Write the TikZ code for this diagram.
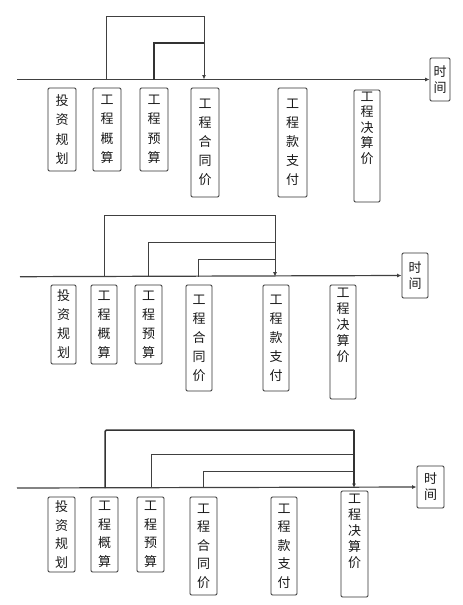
\documentclass[tikz,border=0pt]{standalone}
\usepackage{fontspec}
\newfontfamily\cjk{Noto Sans CJK SC}
\usetikzlibrary{arrows.meta}
\definecolor{ln}{HTML}{404040}
\definecolor{bx}{HTML}{303030}
\newcommand{\vtxt}[5]{\parbox[c][#1pt][#2]{#3pt}{\centering\fontsize{13}{#4}\selectfont\cjk #5}}
\begin{document}
\begin{tikzpicture}[x=1pt,y=-1pt,
  box/.style={draw=bx,line width=0.9pt,rounded corners=1.2pt,inner sep=0pt,text=black!90},
  tl/.style={draw=ln,line width=1.2pt},
  link/.style={draw=ln,line width=0.9pt},
  thick link/.style={draw=ln!80!black,line width=1.5pt},
  arr/.style={-{Latex[length=4.5pt,width=4pt]}}]
\useasboundingbox (0,0) rectangle (463,605);

% ---------------- panel 1 ----------------
\node[box] (T1) at (440,79.5) {\vtxt{43}{c}{20}{16}{时\\间}};
\node[box] (a1) at (62,129.5) {\vtxt{83}{c}{28}{19.5}{投\\资\\规\\划}};
\node[box] (b1) at (107,129.5) {\vtxt{83}{c}{28}{19.5}{工\\程\\概\\算}};
\node[box] (c1) at (154,129.5) {\vtxt{83}{c}{28}{19.5}{工\\程\\预\\算}};
\node[box] (d1) at (205,142.5) {\vtxt{109}{c}{28}{19}{工\\程\\合\\同\\价}};
\node[box] (e1) at (292.5,142.5) {\vtxt{109}{c}{29}{19}{工\\程\\款\\支\\付}};
\node[box] (f1) at (367,146) {\vtxt{112}{t}{26}{15.5}{\vspace{2pt}工\\程\\决\\算\\价}};
\coordinate (s1) at (17,79.5);
\coordinate (p1b) at (106,79.5);
\coordinate (p1c) at (154,79.5);
\coordinate (p1d) at (204,79.5);
\coordinate (h1a) at (204,16);
\coordinate (h1b) at (204,43);
\draw[tl,arr] (s1) -- (T1.west);
\draw[link] (p1b) |- (h1a);
\draw[thick link] (p1c) |- (h1b);
\draw[link,arr] (h1a) -- (p1d);

% ---------------- panel 2 ----------------
\node[box] (T2) at (415,275.5) {\vtxt{45}{c}{26}{16}{时\\间}};
\node[box] (a2) at (63.5,324.5) {\vtxt{79}{c}{25}{19}{投\\资\\规\\划}};
\node[box] (b2) at (104,324.5) {\vtxt{79}{c}{26}{19}{工\\程\\概\\算}};
\node[box] (c2) at (148.5,324.5) {\vtxt{79}{c}{27}{19}{工\\程\\预\\算}};
\node[box] (d2) at (199,338) {\vtxt{106}{c}{26}{19}{工\\程\\合\\同\\价}};
\node[box] (e2) at (276,338) {\vtxt{106}{c}{26}{19}{工\\程\\款\\支\\付}};
\node[box] (f2) at (343,342) {\vtxt{114}{t}{26}{16}{\vspace{3pt}工\\程\\决\\算\\价}};
\coordinate (s2) at (20,276.7);
\coordinate (p2b) at (104,276.7);
\coordinate (p2c) at (148,276.7);
\coordinate (p2d) at (198,276.7);
\coordinate (p2e) at (275,276.7);
\coordinate (h2a) at (275,215);
\coordinate (h2b) at (275,242);
\coordinate (h2c) at (275,259);
\draw[tl,arr] (s2) -- (T2.west);
\draw[link] (p2b) |- (h2a);
\draw[link] (p2c) |- (h2b);
\draw[link] (p2d) |- (h2c);
\draw[link,arr] (h2a) -- (p2e);

% ---------------- panel 3 ----------------
\node[box] (T3) at (430.5,487) {\vtxt{42}{c}{27}{16}{时\\间}};
\node[box] (a3) at (61.5,534.5) {\vtxt{75}{c}{27}{18.5}{投\\资\\规\\划}};
\node[box] (b3) at (104.5,534.5) {\vtxt{75}{c}{27}{18.5}{工\\程\\概\\算}};
\node[box] (c3) at (150.5,534.5) {\vtxt{75}{c}{27}{18.5}{工\\程\\预\\算}};
\node[box] (d3) at (203.5,546) {\vtxt{98}{c}{27}{18.5}{工\\程\\合\\同\\价}};
\node[box] (e3) at (284,546) {\vtxt{98}{c}{26}{18.5}{工\\程\\款\\支\\付}};
\node[box] (f3) at (354.5,544) {\vtxt{106}{t}{27}{16}{\vspace{3pt}工\\程\\决\\算\\价}};
\coordinate (s3) at (17,488);
\coordinate (p3b) at (105,488);
\coordinate (p3c) at (151,488);
\coordinate (p3d) at (203,488);
\coordinate (p3f) at (354,488);
\coordinate (h3a) at (354,430);
\coordinate (h3b) at (354,454);
\coordinate (h3c) at (354,471);
\draw[tl,arr] (s3) -- (T3.west);
\draw[thick link,rounded corners=1.5pt] (p3b) |- (h3a);
\draw[link] (p3c) |- (h3b);
\draw[link] (p3d) |- (h3c);
\draw[thick link,arr] (h3a) -- (p3f);
\end{tikzpicture}
\end{document}
